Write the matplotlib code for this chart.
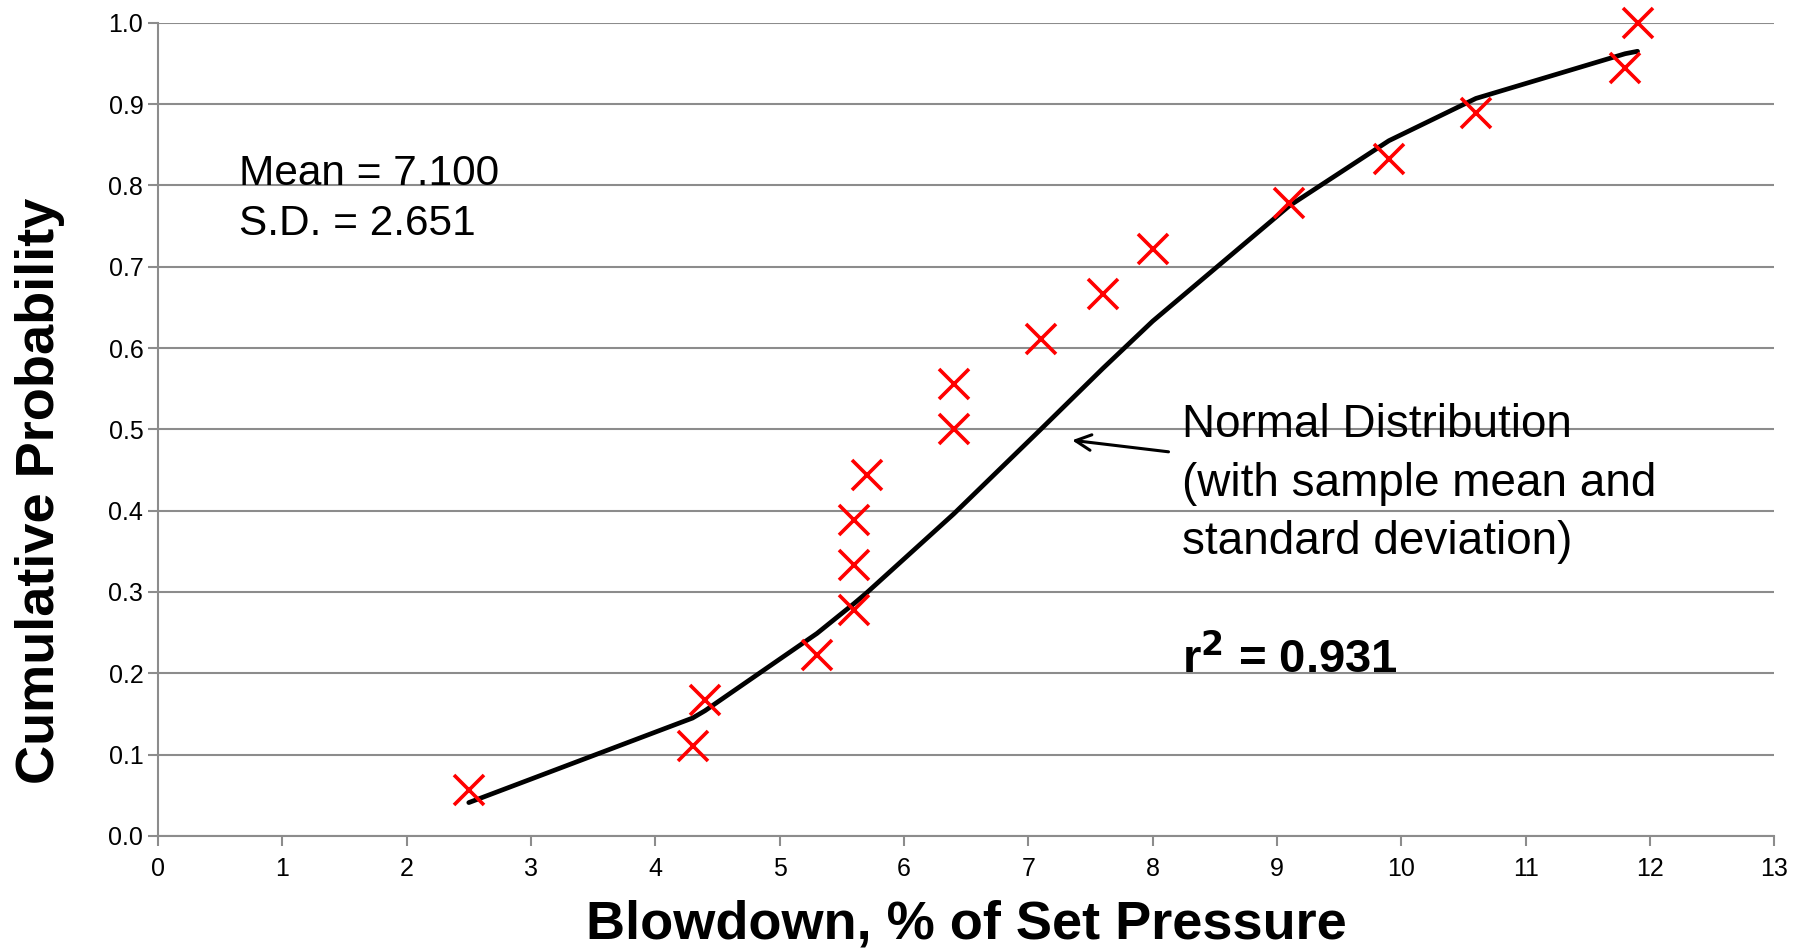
import numpy as np
import matplotlib
matplotlib.use("Agg")
import matplotlib.pyplot as plt

plt.rcParams['font.family'] = ['Liberation Sans', 'DejaVu Sans']

# sample blowdown values and their plotting positions
blowdown = [2.5, 4.3, 4.4, 5.3, 5.6, 5.6, 5.6, 5.7, 6.4, 6.4,
            7.1, 7.6, 8.0, 9.1, 9.9, 10.6, 11.8, 11.9]
cum_prob = [0.056, 0.111, 0.167, 0.222, 0.278, 0.333, 0.389, 0.444, 0.500, 0.556,
            0.611, 0.667, 0.722, 0.778, 0.833, 0.889, 0.944, 1.000]

# normal curve at the same x values
normal_x = [2.5, 4.3, 4.4, 5.3, 5.6, 5.7, 6.4, 7.1, 7.6, 8.0, 9.1, 9.9, 10.6, 11.8, 11.9]
normal_y = [0.041, 0.145, 0.154, 0.249, 0.286, 0.299, 0.396, 0.500, 0.575, 0.633,
            0.775, 0.855, 0.907, 0.962, 0.965]

x_ticks = list(range(0, 14))
y_ticks = [0.0, 0.1, 0.2, 0.3, 0.4, 0.5, 0.6, 0.7, 0.8, 0.9, 1.0]

grey = '#8c8c8c'

fig = plt.figure(figsize=(18.05, 9.51), dpi=100)
ax = fig.add_axes([0.0875, 0.121, 0.8955, 0.855])

ax.plot(normal_x, normal_y, color='black', lw=3.4, solid_capstyle='round', zorder=3)
ax.plot(blowdown, cum_prob, linestyle='none', marker='x', color='#ff0000',
        markersize=21, markeredgewidth=2.6, zorder=4, clip_on=False)

ax.set_xlim(0, 13)
ax.set_ylim(0, 1.0)
ax.set_xticks(x_ticks)
ax.set_yticks(y_ticks)
ax.set_yticklabels(['%.1f' % v for v in y_ticks])
ax.yaxis.grid(True, color=grey, lw=1.5)
ax.set_axisbelow(True)

for s in ['top', 'right']:
    ax.spines[s].set_visible(False)
for s in ['left', 'bottom']:
    ax.spines[s].set_color(grey)
    ax.spines[s].set_linewidth(1.5)
ax.tick_params(axis='both', colors=grey, width=1.5, length=7, labelsize=18,
               labelcolor='black')
ax.tick_params(axis='x', pad=8)

ax.set_xlabel('Blowdown, % of Set Pressure', fontsize=39, fontweight='bold')
ax.xaxis.set_label_coords(0.5, -0.078)
fig.text(0.022, 0.484, 'Cumulative Probability', fontsize=39, fontweight='bold',
         rotation=90, ha='center', va='center')

ax.text(0.65, 0.814, 'Mean = 7.100', fontsize=30.5, va='center')
ax.text(0.65, 0.752, 'S.D. = 2.651', fontsize=30.5, va='center')

ax.text(8.24, 0.433, 'Normal Distribution\n(with sample mean and\nstandard deviation)',
        fontsize=33, va='center', linespacing=1.43)
ax.text(8.24, 0.217, r'r$^\mathbf{2}$ = 0.931', fontsize=34, fontweight='bold', va='center')

ax.annotate('', xy=(7.33, 0.487), xytext=(8.15, 0.472),
            arrowprops=dict(arrowstyle='->', color='black', lw=2.2,
                            mutation_scale=28))

fig.savefig('out.png', dpi=100)
